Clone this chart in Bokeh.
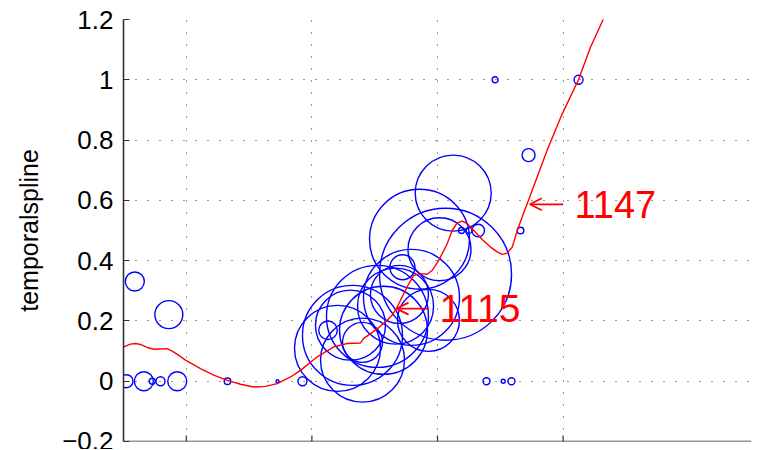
from bokeh.plotting import figure
from bokeh.models import FixedTicker, Arrow, OpenHead, Label, ColumnDataSource, Range1d, Span
from bokeh.embed import file_html
from bokeh.resources import INLINE

# ---- data ----
bubble_x = [0.524, 0.662, 0.729, 0.795, 0.928, 0.590, 0.861, 1.328, 1.726, 1.925,
            3.390, 3.523, 3.589, 3.459, 4.123, 3.725, 3.661, 3.191, 3.252, 3.324,
            2.128, 2.721, 3.125, 2.857, 3.064, 3.016, 2.793, 2.697, 2.928,
            2.204, 2.323, 2.403, 2.522, 2.307, 2.403, 2.570, 2.666]
bubble_y = [0.0, 0.0, 0.0, 0.0, 0.0, 0.331, 0.221, 0.0, 0.0, 0.0,
            0.0, 0.0, 0.0, 1.0, 1.0, 0.750, 0.5, 0.5, 0.5, 0.5,
            0.169, 0.378, 0.624, 0.471, 0.355, 0.438, 0.278, 0.288, 0.202,
            0.109, 0.152, 0.070, 0.215, 0.186, 0.129, 0.169, 0.249]
bubble_d = [13, 19, 6, 9, 19, 19, 28, 6.5, 3, 9,
            7, 4, 7, 6, 9, 13, 6.6, 6, 6, 12.6,
            18.6, 25, 76, 100, 132, 63, 96, 58, 62,
            86, 100, 84, 102, 70, 40, 88, 76]

spline_x = [0.502, 0.556, 0.596, 0.635, 0.689, 0.741, 0.795, 0.848, 0.888, 0.928,
            0.994, 1.113, 1.219, 1.326, 1.432, 1.537, 1.631, 1.724, 1.830, 1.909,
            2.042, 2.174, 2.281, 2.387, 2.413, 2.467, 2.533, 2.586, 2.639, 2.679,
            2.732, 2.772, 2.811, 2.865, 2.918, 2.958, 3.010, 3.077, 3.117, 3.157,
            3.197, 3.236, 3.289, 3.356, 3.422, 3.475, 3.515, 3.555, 3.595, 3.635,
            3.674, 3.714, 3.873, 3.993, 4.123, 4.218, 4.319, 4.377]
spline_y = [0.114, 0.123, 0.125, 0.122, 0.112, 0.106, 0.107, 0.108, 0.100, 0.089,
            0.070, 0.042, 0.020, 0.003, -0.010, -0.019, -0.017, -0.008, 0.014, 0.036,
            0.081, 0.114, 0.125, 0.127, 0.142, 0.158, 0.178, 0.197, 0.219, 0.246,
            0.291, 0.324, 0.351, 0.357, 0.355, 0.368, 0.401, 0.456, 0.500, 0.525,
            0.531, 0.523, 0.500, 0.470, 0.445, 0.429, 0.421, 0.425, 0.445, 0.500,
            0.545, 0.589, 0.766, 0.887, 1.001, 1.108, 1.200, 1.256]

ytick_vals = [-0.2, 0.0, 0.2, 0.4, 0.6, 0.8, 1.0, 1.2]
ytick_labels = ["\u22120.2", "0", "0.2", "0.4", "0.6", "0.8", "1", "1.2"]
xtick_vals = [1, 2, 3, 4]

annot_text = ["1115", "1147"]
annot_tip_x = [2.674, 3.735]
annot_tail_x = [2.931, 4.001]
annot_y = [0.241, 0.587]
annot_text_x = [3.016, 4.091]
annot_font_px = ["39px", "38px"]

FONT = "Liberation Sans"
AXIS_COLOR = "#333333"

p = figure(width=759, height=449,
           x_range=Range1d(0.5, 5.5), y_range=Range1d(-0.2, 1.2),
           output_backend="svg", toolbar_location=None,
           min_border_left=123, min_border_right=8,
           min_border_top=19, min_border_bottom=8)
p.outline_line_color = None
p.background_fill_color = "white"

# x axis drawn as a line with inward ticks (its labels are cut off in the reference)
p.xaxis.visible = False
p.add_layout(Span(location=-0.2, dimension="width", line_color=AXIS_COLOR, line_width=1.6))
p.segment(x0=xtick_vals, y0=[-0.2] * len(xtick_vals), x1=xtick_vals,
          y1=[-0.2 + 0.02] * len(xtick_vals), line_color=AXIS_COLOR, line_width=1.2)

# y axis
p.yaxis.ticker = FixedTicker(ticks=ytick_vals)
p.yaxis.major_label_overrides = {v: s for v, s in zip(ytick_vals, ytick_labels)}
ax = p.yaxis[0]
ax.axis_line_color = AXIS_COLOR
ax.axis_line_width = 1.6
ax.major_tick_line_color = AXIS_COLOR
ax.major_tick_in = 6
ax.major_tick_out = 0
ax.minor_tick_line_color = None
ax.major_label_text_font = FONT
ax.major_label_text_font_size = "26px"
ax.major_label_text_color = "black"
ax.major_label_standoff = 10
ax.axis_label = "temporalspline"
ax.axis_label_text_font = FONT
ax.axis_label_text_font_size = "25px"
ax.axis_label_text_font_style = "normal"
ax.axis_label_text_color = "black"
ax.axis_label_standoff = 16

# grid
p.xgrid.ticker = FixedTicker(ticks=xtick_vals)
p.ygrid.ticker = FixedTicker(ticks=ytick_vals)
for g in (p.xgrid[0], p.ygrid[0]):
    g.grid_line_color = "#333333"
    g.grid_line_width = 1
    g.grid_line_dash = "1 11"

# bubbles
src = ColumnDataSource(dict(x=bubble_x, y=bubble_y, d=bubble_d))
p.scatter("x", "y", size="d", source=src, marker="circle",
          fill_color=None, line_color="#0000ff", line_width=1.4)

# spline
p.line(spline_x, spline_y, line_color="#ff0000", line_width=1.4, line_join="round")

# annotations
for t, tip, tail, yy, tx, fs in zip(annot_text, annot_tip_x, annot_tail_x, annot_y,
                                    annot_text_x, annot_font_px):
    p.add_layout(Arrow(end=OpenHead(size=12, line_color="#ff0000", line_width=1.8),
                       x_start=tail, y_start=yy, x_end=tip, y_end=yy,
                       line_color="#ff0000", line_width=1.8))
    p.add_layout(Label(x=tx, y=yy, text=t, text_font=FONT, text_font_size=fs,
                       text_color="#ff0000", text_baseline="middle", text_align="left"))

open("out.html", "w").write(file_html(p, INLINE))
